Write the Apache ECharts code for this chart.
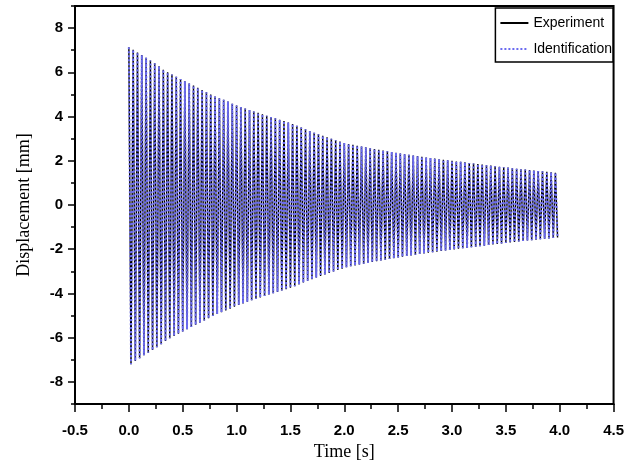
<!DOCTYPE html>
<html>
<head>
<meta charset="utf-8">
<script src="https://cdn.jsdelivr.net/npm/echarts@6/dist/echarts.min.js"></script>
<style>
  html, body { margin: 0; padding: 0; background: #fff; }
  #chart { width: 627px; height: 472px; }
</style>
</head>
<body>
<div id="chart"></div>
<script>
// oscillation period read from the spacing of the peak tips (s)
const period = 0.04

// upper peaks, one per cycle, starting at t = 0 (mm)
const upperPeaks = [
  7.13, 7.02, 6.90, 6.78, 6.66, 6.54, 6.41, 6.28, 6.12, 6.00,
  5.90, 5.80, 5.70, 5.60, 5.50, 5.40, 5.30, 5.20, 5.10, 5.00,
  4.91, 4.83, 4.76, 4.68, 4.58, 4.50, 4.43, 4.36, 4.30, 4.23,
  4.17, 4.10, 4.04, 3.98, 3.92, 3.86, 3.80, 3.73, 3.66, 3.58,
  3.50, 3.42, 3.35, 3.27, 3.20, 3.13, 3.06, 3.00, 2.93, 2.87,
  2.80, 2.76, 2.72, 2.68, 2.65, 2.61, 2.57, 2.53, 2.50, 2.46,
  2.43, 2.40, 2.36, 2.33, 2.30, 2.27, 2.24, 2.21, 2.18, 2.15,
  2.13, 2.10, 2.07, 2.05, 2.02, 2.00, 1.97, 1.95, 1.93, 1.90,
  1.88, 1.85, 1.83, 1.80, 1.78, 1.75, 1.73, 1.71, 1.69, 1.66,
  1.64, 1.62, 1.60, 1.58, 1.56, 1.54, 1.52, 1.50, 1.48, 1.46
]

// lower peaks, half a period after each upper peak (mm)
const lowerPeaks = [
  -7.20, -7.05, -6.93, -6.80, -6.68, -6.56, -6.43, -6.30, -6.15, -6.03,
  -5.92, -5.82, -5.72, -5.62, -5.52, -5.42, -5.32, -5.22, -5.12, -5.02,
  -4.93, -4.85, -4.77, -4.69, -4.60, -4.52, -4.45, -4.38, -4.31, -4.25,
  -4.18, -4.12, -4.05, -3.99, -3.93, -3.87, -3.81, -3.74, -3.67, -3.59,
  -3.51, -3.43, -3.36, -3.28, -3.21, -3.14, -3.07, -3.01, -2.94, -2.88,
  -2.81, -2.77, -2.73, -2.69, -2.66, -2.62, -2.58, -2.54, -2.51, -2.47,
  -2.44, -2.41, -2.37, -2.34, -2.31, -2.28, -2.25, -2.22, -2.19, -2.16,
  -2.14, -2.11, -2.08, -2.06, -2.03, -2.01, -1.98, -1.96, -1.94, -1.91,
  -1.89, -1.86, -1.84, -1.81, -1.79, -1.76, -1.74, -1.72, -1.70, -1.67,
  -1.65, -1.63, -1.61, -1.59, -1.57, -1.55, -1.53, -1.51, -1.49, -1.47
]

// identification curve lies on top of the measured one
const idUpperPeaks = upperPeaks
const idLowerPeaks = lowerPeaks

const yLabelTicks = [-8, -6, -4, -2, 0, 2, 4, 6, 8]
const yMinorTicks = [-9, -7, -5, -3, -1, 1, 3, 5, 7, 9]

function zigzag (up, low) {
  const pts = []
  for (let i = 0; i < up.length; i++) {
    pts.push([i * period, up[i]])
    pts.push([i * period + period / 2, low[i]])
  }
  return pts
}

const labelFont = { color: '#000', fontSize: 15, fontWeight: 'bold', fontFamily: 'Liberation Sans, Arial, sans-serif' }
const nameFont = { color: '#000', fontSize: 18, fontFamily: 'Liberation Serif, Times New Roman, serif' }

const chart = echarts.init(document.getElementById('chart'))
chart.setOption({
  animation: false,
  backgroundColor: '#fff',
  grid: {
    left: 75, right: 12, top: 6, bottom: 68,
    show: true, borderColor: '#000', borderWidth: 2
  },
  legend: {
    orient: 'vertical',
    right: 14,
    top: 8,
    backgroundColor: '#fff',
    borderColor: '#000',
    borderWidth: 1.5,
    padding: [8, 1, 6, 4],
    itemGap: 12,
    itemWidth: 28,
    itemHeight: 14,
    itemStyle: { opacity: 0 },
    textStyle: { color: '#000', fontSize: 14, fontFamily: 'Liberation Sans, Arial, sans-serif' },
    data: ['Experiment', 'Identification']
  },
  xAxis: {
    type: 'value',
    min: -0.5,
    max: 4.5,
    interval: 0.5,
    name: 'Time [s]',
    nameLocation: 'middle',
    nameGap: 38,
    nameTextStyle: nameFont,
    axisLine: { onZero: false, lineStyle: { color: '#000', width: 2 } },
    axisTick: { length: 8, lineStyle: { color: '#000', width: 1.5 } },
    minorTick: { show: true, splitNumber: 2, length: 5, lineStyle: { color: '#000', width: 1.5 } },
    splitLine: { show: false },
    axisLabel: Object.assign({ margin: 19, formatter: v => v.toFixed(1) }, labelFont)
  },
  yAxis: [{
    type: 'value',
    min: -9,
    max: 9,
    name: 'Displacement [mm]',
    nameLocation: 'middle',
    nameGap: 42,
    nameTextStyle: nameFont,
    axisLine: { onZero: false, lineStyle: { color: '#000', width: 2 } },
    axisTick: { length: 7, customValues: yLabelTicks, lineStyle: { color: '#000', width: 1.5 } },
    splitLine: { show: false },
    axisLabel: Object.assign({ margin: 12, customValues: yLabelTicks }, labelFont)
  }, {
    // short minor ticks at odd values
    type: 'value',
    min: -9,
    max: 9,
    position: 'left',
    axisLine: { show: false, onZero: false },
    axisTick: { length: 4, customValues: yMinorTicks, lineStyle: { color: '#000', width: 1.5 } },
    axisLabel: { show: false },
    splitLine: { show: false }
  }],
  series: [{
    name: 'Experiment',
    type: 'line',
    symbol: 'none',
    color: '#000',
    lineStyle: { color: '#000', width: 1.4 },
    data: zigzag(upperPeaks, lowerPeaks)
  }, {
    name: 'Identification',
    type: 'line',
    symbol: 'none',
    color: '#6b6bf0',
    lineStyle: { color: '#6b6bf0', width: 2, type: 'dotted' },
    data: zigzag(idUpperPeaks, idLowerPeaks)
  }]
})
</script>
</body>
</html>
